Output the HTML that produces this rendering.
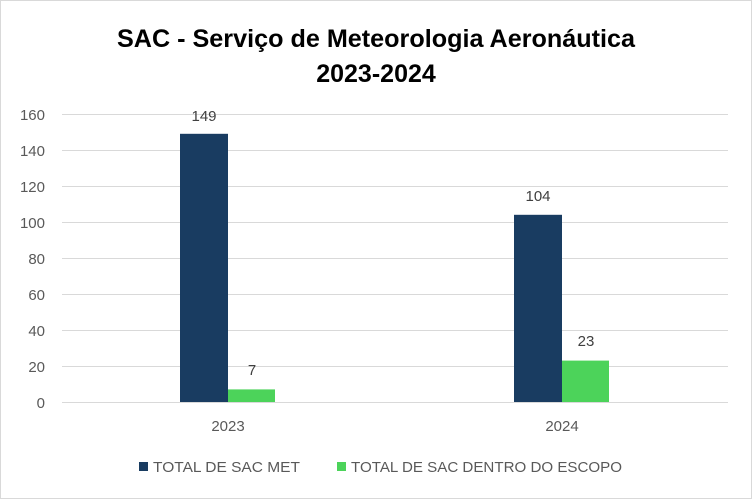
<!DOCTYPE html>
<html><head><meta charset="utf-8"><style>
html,body{margin:0;padding:0;background:#fff;}
svg{display:block;font-family:"Liberation Sans",sans-serif;}
</style></head><body>
<svg width="752" height="499" viewBox="0 0 752 499" xmlns="http://www.w3.org/2000/svg">
<rect x="0.5" y="0.5" width="751" height="498" fill="#fff" stroke="#d9d9d9"/>
<text x="376" y="47" text-anchor="middle" font-size="25" font-weight="bold" fill="#000" textLength="518" lengthAdjust="spacingAndGlyphs">SAC - Serviço de Meteorologia Aeronáutica</text>
<text x="376" y="82" text-anchor="middle" font-size="25" font-weight="bold" fill="#000">2023-2024</text>
<g stroke="#d9d9d9" stroke-width="1">
<line x1="62" x2="728" y1="114.5" y2="114.5"/>
<line x1="62" x2="728" y1="150.5" y2="150.5"/>
<line x1="62" x2="728" y1="186.5" y2="186.5"/>
<line x1="62" x2="728" y1="222.5" y2="222.5"/>
<line x1="62" x2="728" y1="258.5" y2="258.5"/>
<line x1="62" x2="728" y1="294.5" y2="294.5"/>
<line x1="62" x2="728" y1="330.5" y2="330.5"/>
<line x1="62" x2="728" y1="366.5" y2="366.5"/>
<line x1="62" x2="728" y1="402.5" y2="402.5"/>
</g>
<g font-size="15" fill="#595959" text-anchor="end">
<text x="45" y="120">160</text><text x="45" y="156">140</text><text x="45" y="192">120</text>
<text x="45" y="228">100</text><text x="45" y="264">80</text><text x="45" y="300">60</text>
<text x="45" y="336">40</text><text x="45" y="372">20</text><text x="45" y="408">0</text>
</g>
<rect x="180" y="133.8" width="48" height="268.2" fill="#193c61"/>
<rect x="228" y="389.4" width="47" height="12.6" fill="#4cd35a"/>
<rect x="514" y="214.8" width="48" height="187.2" fill="#193c61"/>
<rect x="562" y="360.6" width="47" height="41.4" fill="#4cd35a"/>
<g font-size="15" fill="#404040" text-anchor="middle">
<text x="204" y="121">149</text><text x="252" y="375">7</text>
<text x="538" y="201">104</text><text x="586" y="346">23</text>
</g>
<g font-size="15" fill="#595959" text-anchor="middle">
<text x="228" y="431">2023</text><text x="562" y="431">2024</text>
</g>
<rect x="139" y="462" width="9" height="9" fill="#193c61"/>
<text x="153" y="472" font-size="15" fill="#595959" textLength="147" lengthAdjust="spacingAndGlyphs">TOTAL DE SAC MET</text>
<rect x="337" y="462" width="9" height="9" fill="#4cd35a"/>
<text x="351" y="472" font-size="15" fill="#595959" textLength="271" lengthAdjust="spacingAndGlyphs">TOTAL DE SAC DENTRO DO ESCOPO</text>
</svg>
</body></html>
